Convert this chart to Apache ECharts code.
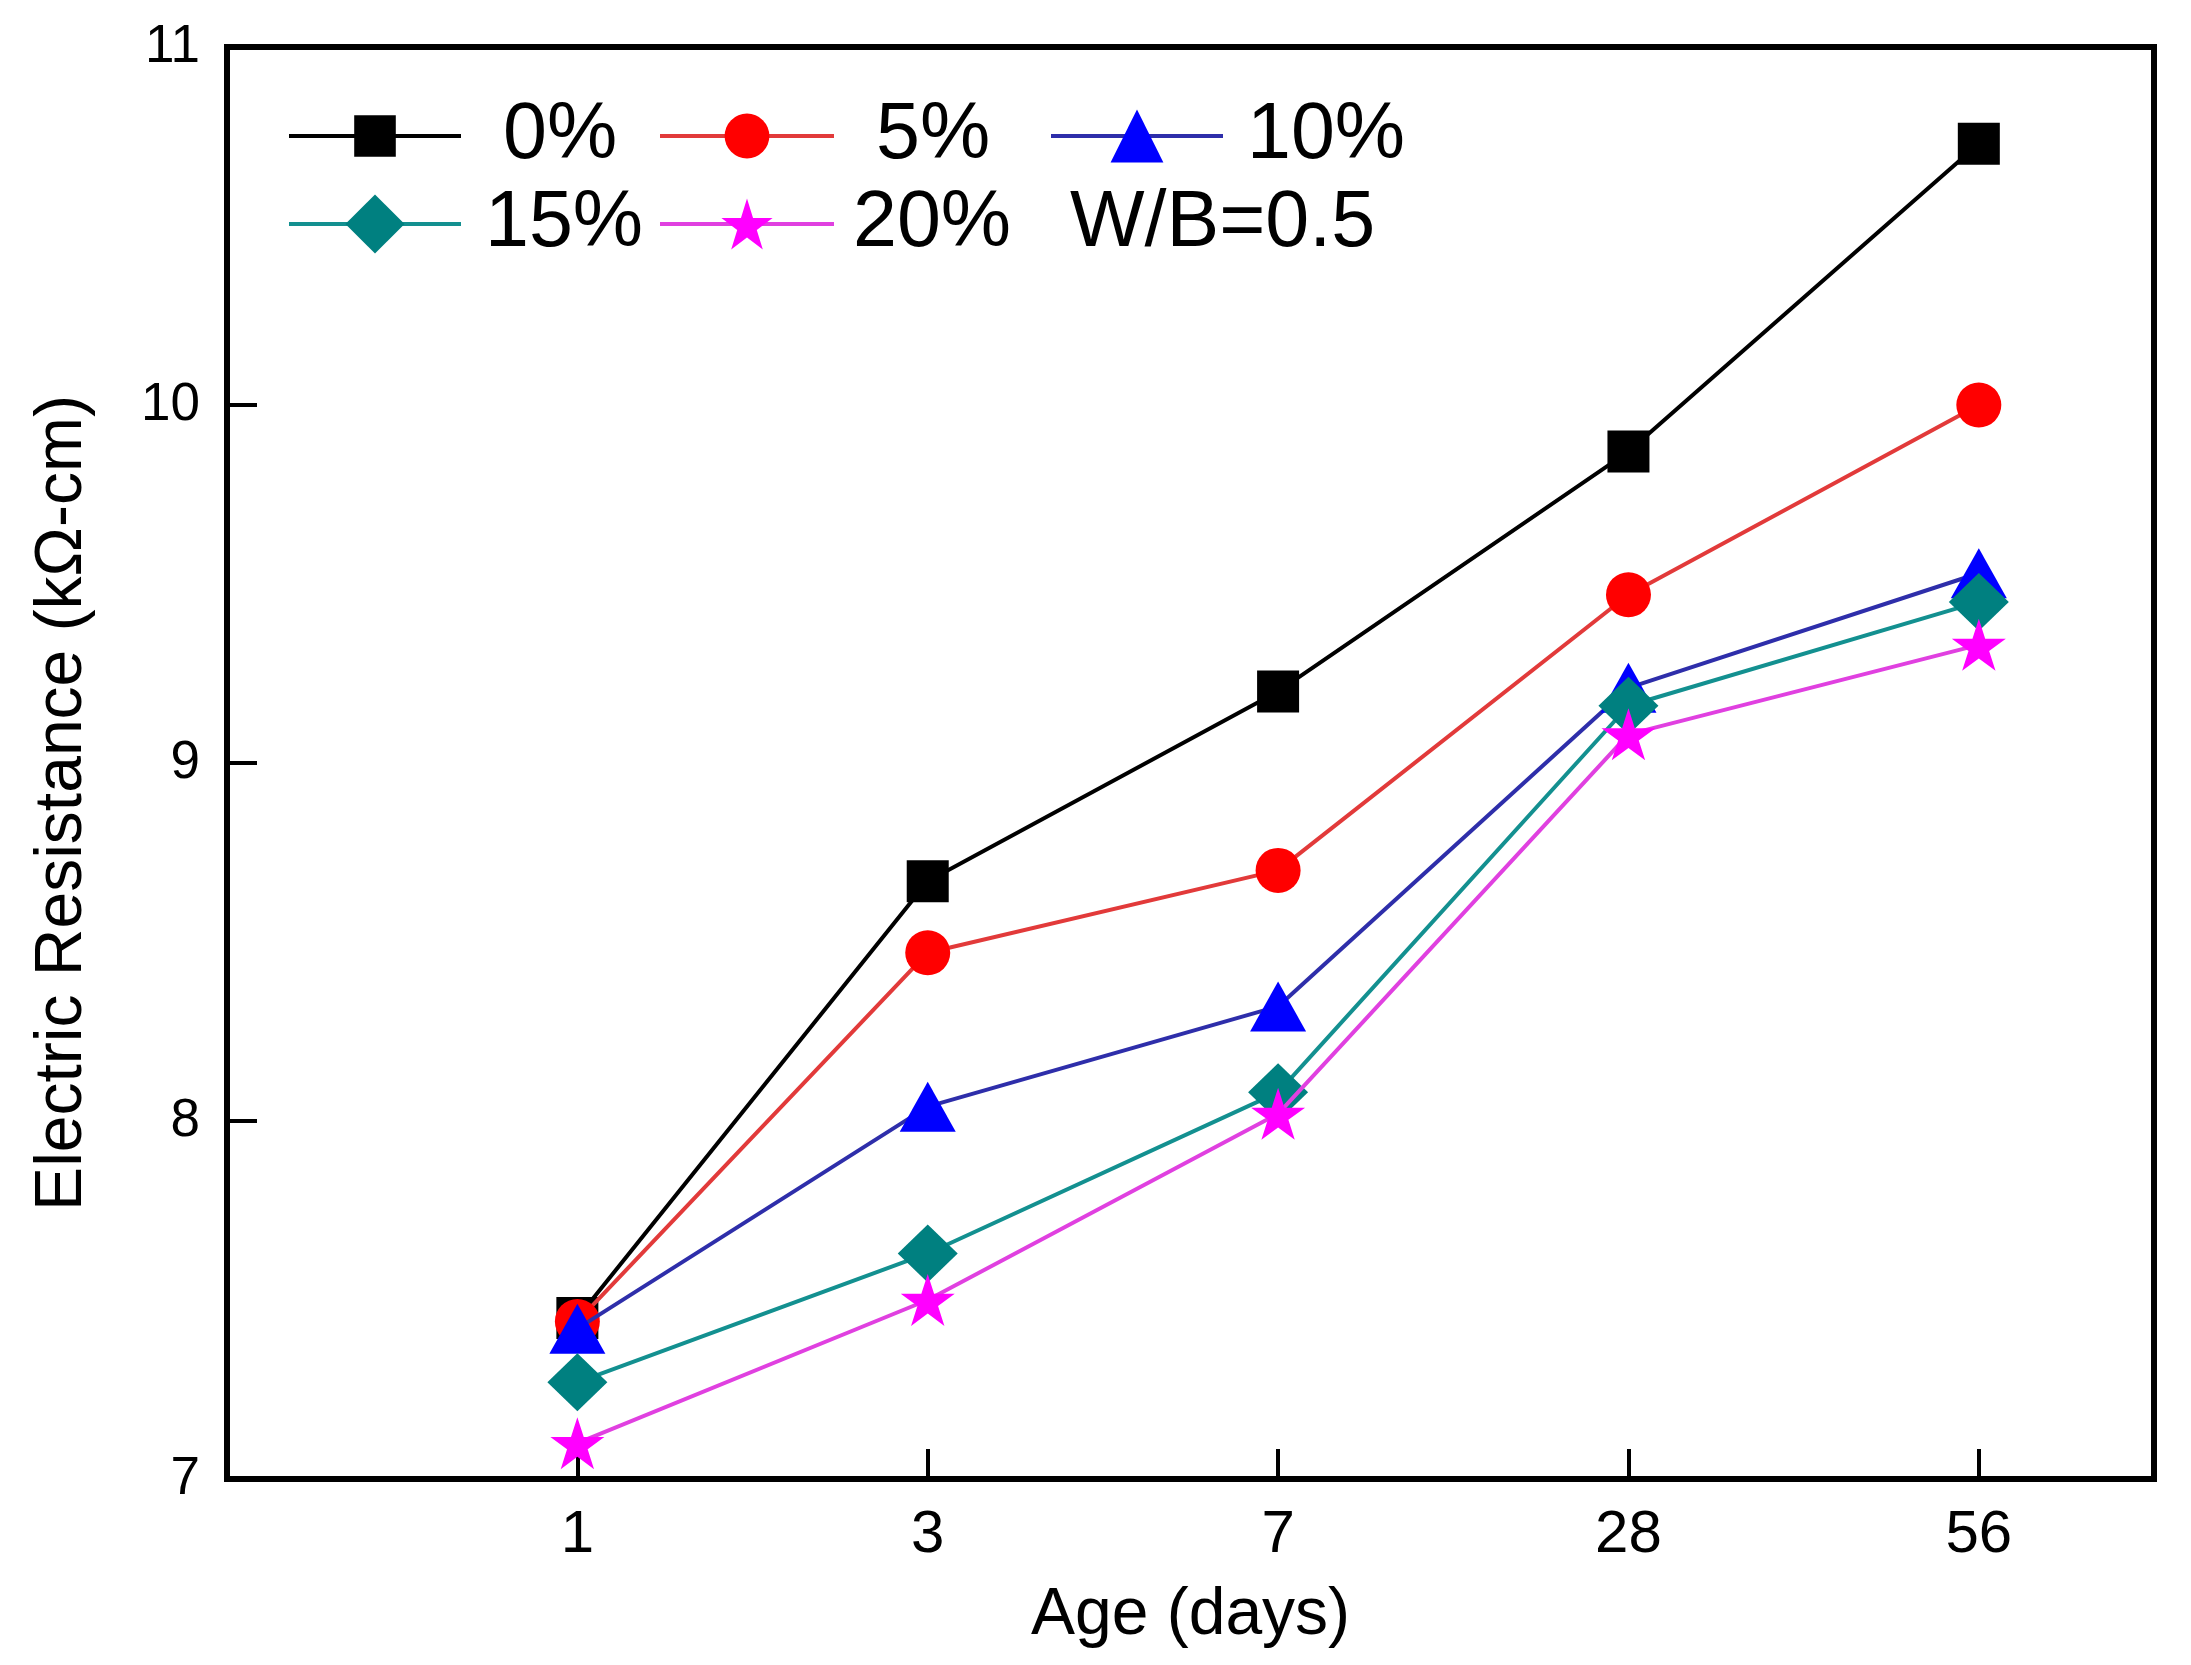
<!DOCTYPE html>
<html>
<head>
<meta charset="utf-8">
<script src="https://cdn.jsdelivr.net/npm/echarts@6/dist/echarts.min.js"></script>
<style>
html,body{margin:0;padding:0;background:#fff;}
#c{width:2191px;height:1665px;}
</style>
</head>
<body>
<div id="c"></div>
<script>
// ---- data ----
const ages = ['1', '3', '7', '28', '56'];
const seriesNames = ['0%', '5%', '10%', '15%', '20%'];
const v0  = [7.45, 8.67, 9.20, 9.87, 10.73];
const v5  = [7.44, 8.47, 8.70, 9.47, 10.00];
const v10 = [7.42, 8.04, 8.32, 9.21, 9.53];
const v15 = [7.27, 7.63, 8.08, 9.16, 9.45];
const v20 = [7.10, 7.50, 8.02, 9.08, 9.33];
const yTicks = [7, 8, 9, 10, 11];
const note = 'W/B=0.5';

const FONT = 'Liberation Sans, Arial, sans-serif';
const starPath = 'path://M50,0 L61.8,35.3 L100,35.3 L69.1,57.1 L80.9,92.7 L50,70.6 L19.1,92.7 L30.9,57.1 L0,35.3 L38.2,35.3 Z';

const styles = [
  {line: '#000000', fill: '#000000', symbol: 'rect', size: 42, lh: 52},
  {line: '#e23a3a', fill: '#ff0000', symbol: 'circle', size: 45, lh: 56},
  {line: '#2e2eaa', fill: '#0000ff', symbol: 'triangle', size: [56, 50], lh: 66},
  {line: '#139090', fill: '#008080', symbol: 'diamond', size: [60, 58], lh: 74},
  {line: '#e040e0', fill: '#ff00ff', symbol: starPath, size: [54, 52], lh: 64}
];
const allValues = [v0, v5, v10, v15, v20];

const series = allValues.map((vals, i) => ({
  name: seriesNames[i],
  type: 'line',
  data: vals.map((v, j) => [j + 1, v]),
  symbol: styles[i].symbol,
  symbolSize: styles[i].size,
  lineStyle: {color: styles[i].line, width: 4},
  itemStyle: {color: styles[i].fill, borderWidth: 0},
  z: 2 + i,
  animation: false
}));

// legend layout (one legend per entry)
const LFS = 79;
const legendPos = [
  {left: 287, row: 136, w: 172, textX: 501},
  {left: 658, row: 136, w: 174, textX: 874},
  {left: 1049, row: 136, w: 172, textX: 1245},
  {left: 287, row: 224, w: 172, textX: 483},
  {left: 658, row: 224, w: 174, textX: 851}
];
const legends = legendPos.map((p, i) => ({
  data: [seriesNames[i]],
  left: p.left,
  top: p.row - Math.max(LFS / 2, styles[i].lh / 2),
  padding: 0,
  itemWidth: p.w,
  itemHeight: styles[i].lh,
  selectedMode: false,
  lineStyle: {width: 4, color: styles[i].line},
  textStyle: {fontFamily: FONT, fontSize: LFS, color: '#000', padding: [0, 0, 0, p.textX - (p.left + p.w + 5)]}
}));

const chart = echarts.init(document.getElementById('c'));
chart.setOption({
  backgroundColor: '#fff',
  animation: false,
  legend: legends,
  grid: {left: 227, right: 37, top: 47, bottom: 186, show: true, borderColor: '#000', borderWidth: 6, containLabel: false},
  xAxis: {
    type: 'value', min: 0, max: 5.5, interval: 1,
    name: 'Age (days)', nameLocation: 'middle', nameGap: 104,
    nameTextStyle: {fontFamily: FONT, fontSize: 66, color: '#000'},
    axisLine: {show: true, lineStyle: {color: '#000', width: 6}},
    axisTick: {show: true, inside: true, length: 30, lineStyle: {color: '#000', width: 4}},
    axisLabel: {
      fontFamily: FONT, fontSize: 60, color: '#000', margin: 26,
      formatter: v => (v >= 1 && v <= ages.length && Number.isInteger(v)) ? ages[v - 1] : ''
    },
    splitLine: {show: false}
  },
  yAxis: {
    type: 'value', min: yTicks[0], max: yTicks[yTicks.length - 1], interval: 1,
    name: 'Electric Resistance (kΩ-cm)', nameLocation: 'middle', nameGap: 131, nameRotate: 90,
    nameTextStyle: {fontFamily: FONT, fontSize: 66, color: '#000', padding: [0, 80, 0, 0]},
    axisLine: {show: true, lineStyle: {color: '#000', width: 6}},
    axisTick: {show: true, inside: true, length: 30, lineStyle: {color: '#000', width: 4}},
    axisLabel: {fontFamily: FONT, fontSize: 53, color: '#000', margin: 27},
    splitLine: {show: false}
  },
  graphic: [{
    type: 'text', left: 1070, top: 224 - LFS / 2,
    style: {text: note, fontFamily: FONT, fontSize: LFS, fill: '#000'}
  }],
  series: series
});
</script>
</body>
</html>
